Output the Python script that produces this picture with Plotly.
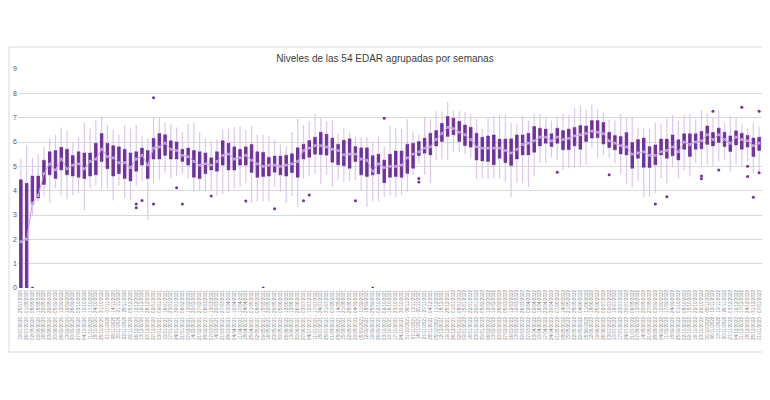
import datetime as dt
import plotly.graph_objects as go

# ---- data ----
start_week = dt.date(2020, 7, 19)
n_weeks = 129
weeks = []
for i in range(n_weeks):
    a = start_week + dt.timedelta(days=7 * i)
    b = a + dt.timedelta(days=6)
    weeks.append(f"{a:%d/%m/%Y} - {b:%d/%m/%Y}")

q1 = [0, 0, 3.45, 3.7, 4.25, 4.65, 4.5, 4.85, 4.65, 4.6,
      4.55, 4.5, 4.6, 4.65, 5.2, 4.9, 4.6, 4.7, 4.5, 4.4,
      4.8, 5.05, 4.5, 5.3, 5.3, 5.45, 5.3, 5.3, 5.2, 5.05,
      4.55, 4.5, 4.7, 4.85, 4.8, 5.05, 4.85, 4.85, 5.05, 5.05,
      4.75, 4.55, 4.58, 4.6, 4.76, 4.65, 4.6, 4.74, 4.55, 5.3,
      5.37, 5.5, 5.48, 5.46, 5.17, 5.06, 5.02, 4.92, 5.2, 4.65,
      4.58, 4.65, 4.69, 4.33, 4.55, 4.58, 4.55, 4.71, 4.92, 5.44,
      5.54, 5.47, 5.84, 6.02, 6.23, 6.3, 6.02, 5.85, 5.79, 5.26,
      5.22, 5.2, 5.06, 5.33, 5.15, 5.03, 5.3, 5.47, 5.47, 5.58,
      5.84, 5.95, 5.81, 5.95, 5.68, 5.68, 5.84, 5.7, 6.02, 6.16,
      6.18, 5.92, 5.77, 5.68, 5.51, 5.47, 4.92, 5.33, 4.96, 4.95,
      5.06, 5.47, 5.33, 5.44, 5.26, 5.7, 5.4, 5.7, 5.72, 5.9,
      5.84, 5.98, 5.81, 5.61, 5.88, 5.7, 5.79, 5.4, 5.65]

q3 = [4.45, 4.3, 4.6, 4.6, 5.25, 5.6, 5.65, 5.78, 5.7, 5.45,
      5.6, 5.55, 5.55, 5.95, 6.35, 5.95, 5.85, 5.8, 5.7, 5.55,
      5.6, 5.75, 5.65, 6.15, 6.35, 6.3, 6.05, 6.0, 5.7, 5.75,
      5.65, 5.6, 5.55, 5.35, 5.6, 6.05, 5.95, 5.8, 5.7, 5.8,
      5.9, 5.6, 5.58, 5.37, 5.42, 5.42, 5.46, 5.52, 5.76, 5.91,
      6.06, 6.2, 6.4, 6.32, 6.16, 5.91, 6.07, 6.13, 5.81, 5.76,
      5.76, 5.44, 5.5, 5.26, 5.5, 5.63, 5.63, 5.91, 5.95, 6.02,
      6.16, 6.36, 6.47, 6.77, 7.05, 6.98, 6.85, 6.7, 6.61, 6.36,
      6.2, 6.25, 6.29, 6.12, 6.12, 6.13, 6.29, 6.29, 6.36, 6.64,
      6.57, 6.53, 6.34, 6.57, 6.47, 6.53, 6.6, 6.68, 6.66, 6.88,
      6.88, 6.8, 6.4, 6.27, 6.23, 6.39, 5.98, 6.1, 6.16, 5.81,
      5.88, 6.12, 6.12, 6.29, 6.09, 6.34, 6.34, 6.34, 6.43, 6.66,
      6.39, 6.57, 6.4, 6.25, 6.46, 6.36, 6.27, 6.16, 6.2]

median = [0.6, 0.5, 3.9, 4.0, 4.8, 5.15, 4.95, 5.35, 5.0, 5.05,
          5.1, 5.0, 5.2, 5.35, 5.75, 5.45, 5.4, 5.2, 5.2, 5.0,
          5.3, 5.45, 5.1, 5.75, 5.85, 5.95, 5.7, 5.65, 5.45, 5.4,
          5.2, 5.1, 5.1, 5.1, 5.2, 5.5, 5.5, 5.3, 5.35, 5.45,
          5.3, 5.1, 5.05, 5.05, 5.1, 5.05, 5.1, 5.15, 5.2, 5.65,
          5.75, 5.85, 5.9, 5.85, 5.7, 5.65, 5.5, 5.55, 5.5, 5.3,
          5.3, 4.9, 5.1, 4.95, 5.0, 5.05, 5.1, 5.35, 5.5, 5.65,
          5.8, 5.85, 6.15, 6.35, 6.6, 6.6, 6.45, 6.3, 6.15, 5.85,
          5.75, 5.8, 5.75, 5.75, 5.65, 5.6, 5.75, 5.9, 5.95, 6.1,
          6.2, 6.2, 6.05, 6.25, 6.1, 6.15, 6.25, 6.3, 6.35, 6.5,
          6.45, 6.35, 6.1, 5.95, 5.9, 5.85, 5.5, 5.6, 5.6, 5.45,
          5.5, 5.65, 5.7, 5.8, 5.65, 6.0, 5.9, 6.0, 6.05, 6.3,
          6.1, 6.3, 6.1, 5.95, 6.2, 6.1, 6.05, 5.85, 5.95]

whisker_low = [0, 0, 2.95, 3.55, 3.8, 3.5, 4.1, 3.8, 3.65, 3.8,
               3.9, 3.2, 4.1, 4.2, 4.05, 4.1, 3.6, 4.2, 3.7, 3.6,
               4.2, 4.4, 2.8, 4.3, 4.45, 4.75, 4.5, 4.6, 4.7, 4.5,
               3.95, 4.0, 4.0, 4.0, 3.8, 3.85, 3.95, 4.1, 4.15, 4.3,
               3.5, 3.55, 3.55, 3.55, 4.15, 3.95, 3.48, 3.78, 3.31, 4.5,
               4.58, 4.71, 4.27, 4.65, 4.16, 4.44, 4.37, 4.41, 4.44, 4.03,
               3.34, 3.55, 3.55, 3.75, 3.82, 3.75, 3.82, 3.96, 4.65, 5.1,
               4.65, 4.33, 5.26, 5.29, 5.26, 5.6, 5.6, 5.5, 5.33, 4.47,
               4.5, 4.47, 4.5, 4.5, 4.37, 3.75, 4.3, 4.3, 4.14, 4.58,
               5.13, 5.13, 5.36, 5.26, 4.85, 4.92, 4.92, 4.99, 5.06, 5.74,
               5.36, 5.47, 5.36, 5.13, 4.71, 4.27, 4.14, 4.41, 3.75, 3.75,
               3.89, 4.51, 4.3, 4.96, 4.51, 4.85, 4.58, 5.13, 4.99, 5.06,
               5.02, 5.2, 5.26, 4.78, 5.1, 4.99, 5.2, 4.71, 4.71]

whisker_high = [5.3, 5.85, 5.35, 5.5, 5.8, 6.15, 6.3, 6.6, 6.45, 6.0,
                6.2, 6.8, 6.55, 6.9, 7.05, 6.7, 6.5, 6.3, 6.7, 6.55,
                6.7, 6.25, 6.15, 7.05, 7.0, 6.8, 6.75, 6.6, 6.4, 6.75,
                6.8, 6.4, 6.15, 6.05, 6.1, 6.5, 6.55, 6.6, 6.65, 6.5,
                6.65, 6.3, 6.3, 6.25, 6.1, 5.9, 5.84, 6.42, 6.95, 6.7,
                6.86, 7.16, 6.98, 6.84, 6.9, 6.36, 6.57, 6.43, 6.23, 6.16,
                6.2, 6.02, 6.23, 5.81, 6.66, 6.57, 6.53, 6.94, 6.43, 6.3,
                7.05, 6.94, 7.26, 7.26, 7.64, 7.3, 7.26, 7.23, 7.15, 6.94,
                6.53, 6.98, 7.08, 7.12, 7.12, 6.8, 6.75, 7.08, 6.88, 7.15,
                7.15, 7.02, 6.88, 7.05, 7.16, 7.12, 7.39, 7.49, 7.33, 7.53,
                7.35, 7.21, 6.91, 6.88, 7.16, 7.02, 7.05, 6.58, 6.55, 6.54,
                6.8, 6.75, 6.95, 7.12, 6.87, 7.12, 7.15, 6.94, 7.32, 7.16,
                7.02, 7.3, 6.8, 7.08, 7.02, 6.71, 6.57, 6.8, 6.64]

mean = [1.9, 2.0, 3.5, 3.8, 4.7, 5.1, 4.85, 5.3, 4.9, 5.05,
        5.1, 4.9, 5.2, 5.3, 5.7, 5.4, 5.35, 5.15, 5.15, 4.95,
        5.3, 5.45, 5.05, 5.75, 5.8, 5.95, 5.7, 5.65, 5.45, 5.4,
        5.2, 5.05, 5.1, 5.05, 5.2, 5.45, 5.5, 5.3, 5.35, 5.45,
        5.25, 5.1, 5.0, 5.05, 5.05, 5.0, 5.05, 5.1, 5.2, 5.65,
        5.75, 5.85, 5.85, 5.8, 5.7, 5.65, 5.47, 5.5, 5.5, 5.3,
        5.25, 4.8, 5.1, 4.95, 5.0, 5.0, 5.05, 5.35, 5.5, 5.6,
        5.75, 5.8, 6.1, 6.35, 6.6, 6.55, 6.4, 6.3, 6.1, 5.8,
        5.75, 5.75, 5.75, 5.75, 5.65, 5.55, 5.7, 5.9, 5.95, 6.05,
        6.2, 6.2, 6.05, 6.2, 6.1, 6.15, 6.25, 6.3, 6.35, 6.45,
        6.4, 6.35, 6.05, 5.95, 5.85, 5.8, 5.5, 5.55, 5.6, 5.45,
        5.45, 5.6, 5.65, 5.8, 5.6, 6.0, 5.9, 6.0, 6.05, 6.3,
        6.1, 6.3, 6.1, 5.95, 6.2, 6.1, 6.05, 5.85, 5.95]

outlier_week = [3, 21, 21, 22, 24, 24, 28, 29, 34, 40, 43, 45, 50, 51, 59, 62, 64,
                70, 70, 94, 103, 111, 113, 119, 119, 121, 122, 126, 127, 127,
                128, 129, 129]
outlier_value = [0, 3.45, 3.3, 3.6, 7.82, 3.45, 4.12, 3.45, 3.78, 3.58, 0, 3.26, 3.59,
                 3.82, 3.59, 0, 6.98, 4.5, 4.36, 4.76, 4.65, 3.45, 3.75, 4.6, 4.49,
                 7.26, 4.85, 7.43, 5.0, 4.58, 3.73, 7.26, 4.74]

title_text = "Niveles de las 54 EDAR agrupadas por semanas"

# ---- styling ----
DARK = "#7030A0"
LIGHT = "#DCC6F0"
MEANC = "#C7A3E6"
GRID = "#D9D9D9"
TXT = "#595959"

fig = go.Figure()

# boxes (dark)
fig.add_trace(go.Box(x=weeks, q1=q1, median=median, q3=q3,
                     lowerfence=q1, upperfence=q3,
                     fillcolor=DARK, line=dict(color=DARK, width=1),
                     boxpoints=False, showlegend=False, whiskerwidth=0))

# whiskers (light lines) outside the boxes
wx, wy = [], []
for w, lo, a, b, hi in zip(weeks, whisker_low, q1, q3, whisker_high):
    wx += [w, w, None, w, w, None]
    wy += [lo, a, None, b, hi, None]
fig.add_trace(go.Scatter(x=wx, y=wy, mode="lines",
                         line=dict(color=LIGHT, width=1.2),
                         hoverinfo="skip", showlegend=False))

# mean line with x markers
fig.add_trace(go.Scatter(x=weeks, y=mean, mode="lines+markers",
                         line=dict(color=MEANC, width=1),
                         marker=dict(symbol="x", size=3, color=MEANC),
                         showlegend=False, hoverinfo="skip"))

# outliers
fig.add_trace(go.Scatter(x=[weeks[i - 1] for i in outlier_week], y=outlier_value,
                         mode="markers",
                         marker=dict(symbol="circle", size=3, color=DARK),
                         showlegend=False))

# page body has an 8px default margin: figure spans 8..770 x 8..400
OFF = 8
W, H = 770 - OFF, 400 - OFF
L, R, T, B = 18 - OFF, 8, 69 - OFF, 112
pw, ph = W - L - R, H - T - B

fig.update_layout(
    width=W, height=H,
    margin=dict(l=L, r=R, t=T, b=B, pad=0, autoexpand=False),
    paper_bgcolor="white", plot_bgcolor="white",
    boxgap=0.4,
    font=dict(family="Liberation Sans, Arial, sans-serif", color=TXT),
    title=dict(text=title_text, x=(385 - OFF) / W, xanchor="center",
               y=1 - (58 - OFF) / H, yanchor="middle", yref="container",
               font=dict(size=10, color="#404040",
                         family="Liberation Sans, Arial, sans-serif")),
    xaxis=dict(type="category", categoryorder="array", categoryarray=weeks,
               tickmode="array", tickvals=weeks, ticktext=weeks,
               range=[-0.5, n_weeks - 0.5], autorange=False,
               tickangle=-90, tickfont=dict(size=4.6, color="#7F7F7F"),
               showgrid=False, showline=False, ticks="", zeroline=False,
               automargin=False),
    yaxis=dict(range=[0, 9], dtick=1, tick0=0, showgrid=True, gridcolor=GRID,
               gridwidth=1, zeroline=False, showline=False, ticks="",
               tickfont=dict(size=7, color=TXT), automargin=False),
    shapes=[dict(type="rect", xref="paper", yref="paper",
                 x0=(9 - 18) / pw, x1=(766 - 18) / pw,
                 y0=(288 - 352) / ph, y1=(288 - 47) / ph,
                 line=dict(color=GRID, width=1), layer="below")],
)

fig.write_html("out.html")
